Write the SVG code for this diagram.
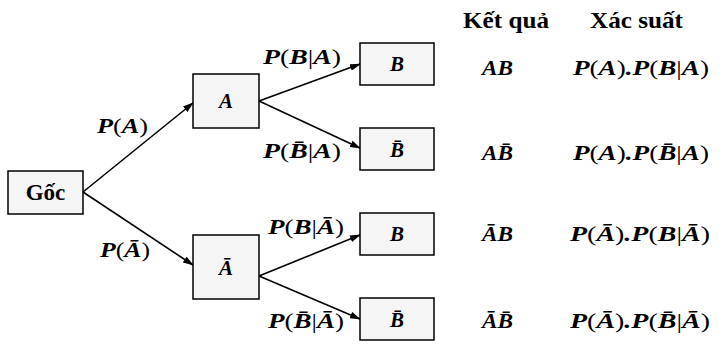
<svg xmlns="http://www.w3.org/2000/svg" width="725" height="344" viewBox="0 0 725 344">
<style>
.bg{fill:#ffffff}
.box{fill:#f5f5f5;stroke:#000;stroke-width:1.5}
.conn{stroke:#000;stroke-width:1.6;fill:none;marker-end:url(#ah)}
.m{font-family:"Liberation Serif","Times New Roman",serif;font-style:italic;font-weight:bold;font-size:21px;fill:#000}
.u{font-style:normal;font-weight:normal}
.h{font-family:"Liberation Serif","Times New Roman",serif;font-weight:bold;font-size:23px;fill:#000}
.c{text-anchor:middle}
</style>
<defs>
<marker id="ah" markerUnits="userSpaceOnUse" markerWidth="11" markerHeight="7" refX="10" refY="3.5" orient="auto">
<path d="M0,0 L11,3.5 L0,7 Z" fill="#000"/>
</marker>
</defs>
<rect class="bg" x="0" y="0" width="725" height="344"/>

<g id="connectors">
<line class="conn" x1="83" y1="192" x2="193" y2="103"/>
<line class="conn" x1="83" y1="192" x2="193" y2="265"/>
<line class="conn" x1="259" y1="101" x2="360" y2="64"/>
<line class="conn" x1="259" y1="101" x2="360" y2="148"/>
<line class="conn" x1="259" y1="276" x2="360" y2="235"/>
<line class="conn" x1="259" y1="276" x2="360" y2="319"/>
<text class="m" x="97" y="133" textLength="51" lengthAdjust="spacingAndGlyphs">P<tspan class="u">(</tspan>A<tspan class="u">)</tspan></text>
<text class="m" x="100" y="257" textLength="50" lengthAdjust="spacingAndGlyphs">P<tspan class="u">(</tspan>&#x100;<tspan class="u">)</tspan></text>
<text class="m" x="263" y="64" textLength="78" lengthAdjust="spacingAndGlyphs">P<tspan class="u">(</tspan>B<tspan class="u">|</tspan>A<tspan class="u">)</tspan></text>
<text class="m" x="263" y="158" textLength="78" lengthAdjust="spacingAndGlyphs">P<tspan class="u">(</tspan>B&#x304;<tspan class="u">|</tspan>A<tspan class="u">)</tspan></text>
<text class="m" x="268" y="234" textLength="76" lengthAdjust="spacingAndGlyphs">P<tspan class="u">(</tspan>B<tspan class="u">|</tspan>&#x100;<tspan class="u">)</tspan></text>
<text class="m" x="268" y="328" textLength="76" lengthAdjust="spacingAndGlyphs">P<tspan class="u">(</tspan>B&#x304;<tspan class="u">|</tspan>&#x100;<tspan class="u">)</tspan></text>
</g>

<g id="node-goc">
<rect class="box" x="8" y="171" width="75" height="43"/>
<text class="h c" x="45.5" y="200">Gốc</text>
</g>
<g id="node-A">
<rect class="box" x="193" y="74" width="66" height="54"/>
<text class="m c" x="226" y="108">A</text>
</g>
<g id="node-Abar">
<rect class="box" x="193" y="235" width="66" height="64"/>
<text class="m c" x="226" y="275">&#x100;</text>
</g>
<g id="node-B1">
<rect class="box" x="360" y="43" width="74" height="42"/>
<text class="m c" x="397" y="71">B</text>
</g>
<g id="node-Bbar1">
<rect class="box" x="360" y="128" width="74" height="42"/>
<text class="m c" x="397" y="157">B&#x304;</text>
</g>
<g id="node-B2">
<rect class="box" x="360" y="213" width="74" height="42"/>
<text class="m c" x="397" y="241">B</text>
</g>
<g id="node-Bbar2">
<rect class="box" x="360" y="298" width="74" height="42"/>
<text class="m c" x="397" y="327">B&#x304;</text>
</g>

<g id="table">
<text class="h" x="463" y="28" textLength="86" lengthAdjust="spacingAndGlyphs">Kết quả</text>
<text class="h" x="590" y="28" textLength="93" lengthAdjust="spacingAndGlyphs">Xác suất</text>
<text class="m" x="482" y="75" textLength="31" lengthAdjust="spacingAndGlyphs">AB</text>
<text class="m" x="482" y="160" textLength="31" lengthAdjust="spacingAndGlyphs">AB&#x304;</text>
<text class="m" x="482" y="241" textLength="31" lengthAdjust="spacingAndGlyphs">&#x100;B</text>
<text class="m" x="482" y="328" textLength="31" lengthAdjust="spacingAndGlyphs">&#x100;B&#x304;</text>
<text class="m" x="573" y="75" textLength="136" lengthAdjust="spacingAndGlyphs">P<tspan class="u">(</tspan>A<tspan class="u">)</tspan>.P<tspan class="u">(</tspan>B<tspan class="u">|</tspan>A<tspan class="u">)</tspan></text>
<text class="m" x="573" y="160" textLength="136" lengthAdjust="spacingAndGlyphs">P<tspan class="u">(</tspan>A<tspan class="u">)</tspan>.P<tspan class="u">(</tspan>B&#x304;<tspan class="u">|</tspan>A<tspan class="u">)</tspan></text>
<text class="m" x="570" y="241" textLength="140" lengthAdjust="spacingAndGlyphs">P<tspan class="u">(</tspan>&#x100;<tspan class="u">)</tspan>.P<tspan class="u">(</tspan>B<tspan class="u">|</tspan>&#x100;<tspan class="u">)</tspan></text>
<text class="m" x="570" y="328" textLength="140" lengthAdjust="spacingAndGlyphs">P<tspan class="u">(</tspan>&#x100;<tspan class="u">)</tspan>.P<tspan class="u">(</tspan>B&#x304;<tspan class="u">|</tspan>&#x100;<tspan class="u">)</tspan></text>
</g>
</svg>
